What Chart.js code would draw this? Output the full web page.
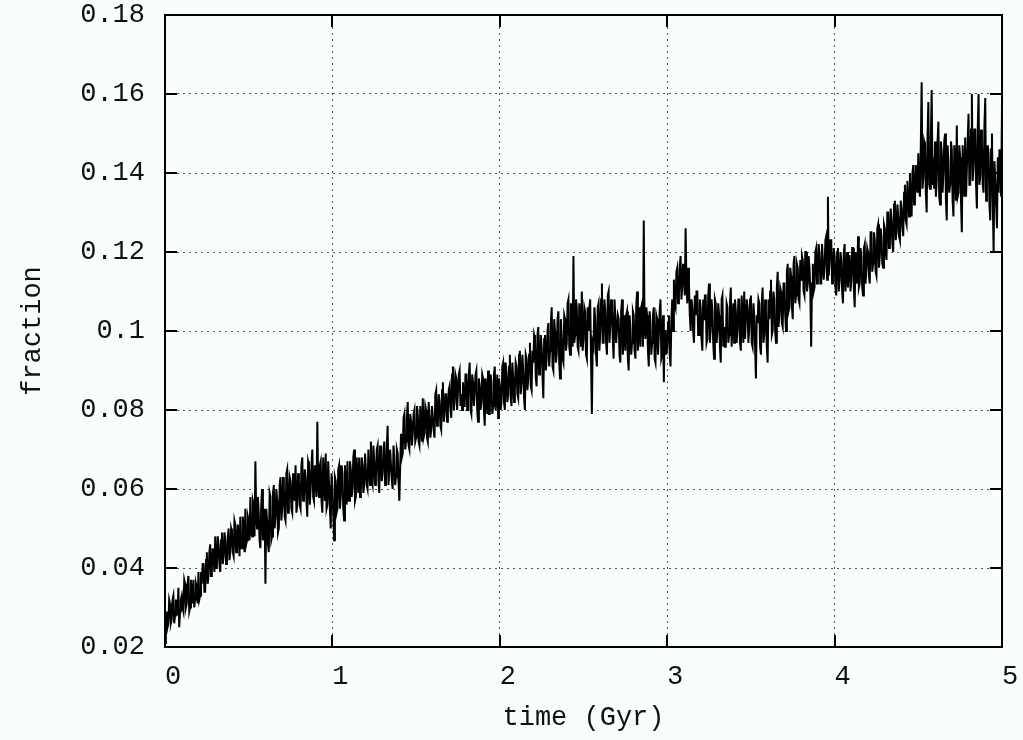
<!DOCTYPE html>
<html>
<head>
<meta charset="utf-8">
<script src="https://cdn.jsdelivr.net/npm/chart.js@4.4.0/dist/chart.umd.min.js"></script>
<style>
  html, body { margin: 0; padding: 0; background: #f8fefe; }
  #wrap { width: 1023px; height: 740px; }
</style>
</head>
<body>
<div id="wrap"><canvas id="fracChart" width="1023" height="740"></canvas></div>
<script>
// output every 0.005 Gyr: fracGyrN holds the samples on the 0.01 grid,
// halfGyrN the samples taken half a step later
const timeStep = 0.01;

const fracGyr0 = [
  0.021, 0.029, 0.026, 0.031, 0.027, 0.033, 0.028, 0.030, 0.035, 0.029,
  0.033, 0.029, 0.036, 0.031, 0.038, 0.030, 0.034, 0.037, 0.032, 0.035,
  0.039, 0.033, 0.036, 0.041, 0.034, 0.044, 0.038, 0.046, 0.040, 0.043,
  0.048, 0.041, 0.046, 0.039, 0.049, 0.043, 0.047, 0.042, 0.050, 0.044,
  0.049, 0.043, 0.051, 0.046, 0.048, 0.053, 0.045, 0.050, 0.055, 0.047,
  0.052, 0.058, 0.048, 0.056, 0.067, 0.050, 0.054, 0.045, 0.060, 0.049,
  0.036, 0.052, 0.044, 0.058, 0.048, 0.061, 0.053, 0.057, 0.050, 0.063,
  0.055, 0.060, 0.052, 0.065, 0.057, 0.062, 0.054, 0.059, 0.066, 0.056,
  0.062, 0.055, 0.068, 0.058, 0.063, 0.053, 0.066, 0.060, 0.070, 0.057,
  0.064, 0.077, 0.058, 0.067, 0.054, 0.063, 0.069, 0.056, 0.061, 0.050
];
const halfGyr0 = [
  0.026, 0.025, 0.032, 0.026, 0.032, 0.026, 0.032, 0.028, 0.025, 0.032,
  0.030, 0.037, 0.030, 0.036, 0.029, 0.037, 0.031, 0.030, 0.036, 0.031,
  0.032, 0.039, 0.041, 0.034, 0.042, 0.036, 0.044, 0.038, 0.045, 0.039,
  0.040, 0.048, 0.041, 0.047, 0.041, 0.049, 0.041, 0.048, 0.042, 0.050,
  0.044, 0.052, 0.044, 0.051, 0.043, 0.045, 0.053, 0.044, 0.046, 0.053,
  0.047, 0.049, 0.057, 0.048, 0.053, 0.058, 0.047, 0.056, 0.047, 0.055,
  0.055, 0.046, 0.059, 0.047, 0.059, 0.050, 0.060, 0.049, 0.061, 0.052,
  0.063, 0.053, 0.064, 0.054, 0.063, 0.055, 0.064, 0.057, 0.054, 0.064,
  0.056, 0.066, 0.057, 0.065, 0.057, 0.067, 0.056, 0.066, 0.058, 0.066,
  0.058, 0.061, 0.066, 0.057, 0.068, 0.057, 0.055, 0.067, 0.055, 0.064
];
const fracGyr1 = [
  0.060, 0.047, 0.062, 0.055, 0.066, 0.058, 0.064, 0.052, 0.061, 0.067,
  0.057, 0.065, 0.060, 0.070, 0.058, 0.063, 0.068, 0.059, 0.066, 0.061,
  0.069, 0.060, 0.066, 0.072, 0.061, 0.067, 0.063, 0.071, 0.059, 0.068,
  0.064, 0.072, 0.062, 0.076, 0.065, 0.070, 0.060, 0.068, 0.063, 0.069,
  0.057, 0.074, 0.069, 0.079, 0.072, 0.082, 0.070, 0.077, 0.074, 0.080,
  0.073, 0.079, 0.071, 0.076, 0.083, 0.074, 0.080, 0.072, 0.078, 0.075,
  0.081, 0.073, 0.085, 0.077, 0.082, 0.075, 0.087, 0.079, 0.084, 0.080,
  0.086, 0.078, 0.091, 0.082, 0.088, 0.080, 0.090, 0.084, 0.087, 0.081,
  0.089, 0.083, 0.092, 0.079, 0.087, 0.084, 0.090, 0.077, 0.086, 0.082,
  0.088, 0.076, 0.084, 0.090, 0.079, 0.087, 0.081, 0.091, 0.083, 0.078
];
const halfGyr1 = [
  0.054, 0.063, 0.054, 0.065, 0.055, 0.066, 0.055, 0.066, 0.056, 0.057,
  0.067, 0.058, 0.068, 0.057, 0.068, 0.059, 0.058, 0.068, 0.059, 0.069,
  0.061, 0.070, 0.061, 0.062, 0.071, 0.061, 0.070, 0.062, 0.071, 0.062,
  0.070, 0.061, 0.071, 0.061, 0.070, 0.062, 0.071, 0.061, 0.070, 0.062,
  0.066, 0.068, 0.078, 0.070, 0.078, 0.071, 0.079, 0.071, 0.079, 0.072,
  0.081, 0.072, 0.081, 0.072, 0.073, 0.081, 0.073, 0.082, 0.073, 0.081,
  0.075, 0.084, 0.076, 0.084, 0.076, 0.085, 0.077, 0.084, 0.077, 0.085,
  0.080, 0.089, 0.080, 0.089, 0.080, 0.089, 0.081, 0.080, 0.081, 0.089,
  0.080, 0.089, 0.080, 0.089, 0.081, 0.089, 0.080, 0.088, 0.080, 0.089,
  0.080, 0.088, 0.079, 0.079, 0.089, 0.079, 0.089, 0.080, 0.089, 0.088
];
const fracGyr2 = [
  0.086, 0.082, 0.092, 0.080, 0.089, 0.084, 0.094, 0.081, 0.088, 0.085,
  0.091, 0.083, 0.095, 0.087, 0.090, 0.080, 0.093, 0.088, 0.097, 0.085,
  0.092, 0.098, 0.086, 0.101, 0.090, 0.096, 0.083, 0.099, 0.093, 0.102,
  0.095, 0.106, 0.090, 0.100, 0.094, 0.105, 0.088, 0.098, 0.092, 0.103,
  0.097, 0.108, 0.094, 0.102, 0.119, 0.099, 0.106, 0.095, 0.103, 0.110,
  0.098, 0.105, 0.093, 0.100, 0.108, 0.079, 0.096, 0.103, 0.091, 0.107,
  0.099, 0.112, 0.097, 0.105, 0.094, 0.110, 0.101, 0.106, 0.093, 0.104,
  0.097, 0.103, 0.092, 0.108, 0.099, 0.095, 0.105, 0.090, 0.101, 0.097,
  0.104, 0.093, 0.110, 0.100, 0.096, 0.107, 0.128, 0.098, 0.104, 0.091,
  0.102, 0.097, 0.106, 0.092, 0.103, 0.099, 0.108, 0.094, 0.087, 0.100
];
const halfGyr2 = [
  0.080, 0.091, 0.082, 0.092, 0.082, 0.091, 0.083, 0.092, 0.082, 0.092,
  0.084, 0.094, 0.084, 0.094, 0.083, 0.094, 0.085, 0.094, 0.086, 0.095,
  0.099, 0.088, 0.099, 0.089, 0.099, 0.089, 0.098, 0.090, 0.100, 0.091,
  0.102, 0.091, 0.103, 0.092, 0.103, 0.092, 0.103, 0.093, 0.104, 0.095,
  0.107, 0.096, 0.107, 0.096, 0.097, 0.108, 0.096, 0.107, 0.096, 0.095,
  0.106, 0.094, 0.106, 0.106, 0.093, 0.097, 0.106, 0.094, 0.106, 0.095,
  0.108, 0.097, 0.108, 0.097, 0.109, 0.097, 0.108, 0.098, 0.108, 0.097,
  0.104, 0.094, 0.105, 0.094, 0.104, 0.104, 0.093, 0.104, 0.094, 0.105,
  0.095, 0.106, 0.095, 0.106, 0.106, 0.096, 0.100, 0.106, 0.095, 0.105,
  0.094, 0.104, 0.093, 0.104, 0.094, 0.105, 0.093, 0.104, 0.100, 0.094
];
const fracGyr3 = [
  0.096, 0.104, 0.091, 0.108, 0.113, 0.106, 0.116, 0.109, 0.119, 0.111,
  0.115, 0.126, 0.107, 0.112, 0.100, 0.106, 0.097, 0.104, 0.110, 0.099,
  0.106, 0.095, 0.103, 0.109, 0.098, 0.112, 0.101, 0.105, 0.093, 0.107,
  0.100, 0.104, 0.092, 0.109, 0.101, 0.096, 0.106, 0.099, 0.111, 0.102,
  0.097, 0.105, 0.100, 0.108, 0.095, 0.103, 0.110, 0.098, 0.106, 0.101,
  0.109, 0.096, 0.104, 0.088, 0.102, 0.107, 0.094, 0.111, 0.099, 0.105,
  0.092, 0.103, 0.113, 0.100, 0.108, 0.097, 0.115, 0.104, 0.110, 0.101,
  0.112, 0.100, 0.117, 0.106, 0.114, 0.103, 0.119, 0.109, 0.116, 0.107,
  0.113, 0.118, 0.109, 0.120, 0.112, 0.116, 0.096, 0.117, 0.111, 0.121,
  0.114, 0.119, 0.112, 0.122, 0.116, 0.124, 0.134, 0.118, 0.123, 0.113
];
const halfGyr3 = [
  0.102, 0.094, 0.103, 0.100, 0.107, 0.115, 0.107, 0.116, 0.108, 0.117,
  0.109, 0.112, 0.116, 0.104, 0.108, 0.100, 0.109, 0.110, 0.099, 0.108,
  0.098, 0.108, 0.109, 0.097, 0.109, 0.097, 0.108, 0.097, 0.108, 0.097,
  0.107, 0.096, 0.108, 0.096, 0.096, 0.107, 0.097, 0.107, 0.096, 0.107,
  0.108, 0.097, 0.108, 0.097, 0.109, 0.097, 0.098, 0.108, 0.097, 0.108,
  0.097, 0.107, 0.096, 0.104, 0.108, 0.096, 0.107, 0.097, 0.108, 0.096,
  0.108, 0.110, 0.099, 0.110, 0.100, 0.111, 0.101, 0.111, 0.102, 0.112,
  0.104, 0.115, 0.105, 0.116, 0.106, 0.117, 0.107, 0.117, 0.108, 0.118,
  0.119, 0.110, 0.120, 0.110, 0.119, 0.110, 0.112, 0.110, 0.120, 0.112,
  0.122, 0.112, 0.122, 0.113, 0.123, 0.113, 0.114, 0.123, 0.112, 0.121
];
const fracGyr4 = [
  0.119, 0.109, 0.121, 0.113, 0.118, 0.107, 0.122, 0.115, 0.111, 0.119,
  0.113, 0.121, 0.106, 0.117, 0.124, 0.112, 0.119, 0.109, 0.122, 0.116,
  0.120, 0.112, 0.125, 0.117, 0.123, 0.114, 0.127, 0.119, 0.124, 0.116,
  0.126, 0.118, 0.130, 0.122, 0.128, 0.120, 0.133, 0.125, 0.129, 0.123,
  0.131, 0.124, 0.137, 0.127, 0.134, 0.140, 0.129, 0.142, 0.133, 0.138,
  0.145, 0.134, 0.163, 0.139, 0.147, 0.130, 0.158, 0.136, 0.161, 0.144,
  0.148, 0.138, 0.153, 0.132, 0.145, 0.140, 0.150, 0.128, 0.143, 0.137,
  0.146, 0.129, 0.141, 0.152, 0.135, 0.144, 0.125, 0.140, 0.149, 0.134,
  0.155, 0.137, 0.160, 0.142, 0.151, 0.131, 0.160, 0.139, 0.148, 0.135,
  0.159, 0.140, 0.145, 0.128, 0.150, 0.120, 0.138, 0.126, 0.135, 0.143,
  0.157
];
const halfGyr4 = [
  0.111, 0.120, 0.110, 0.120, 0.110, 0.120, 0.110, 0.120, 0.119, 0.110,
  0.121, 0.111, 0.120, 0.112, 0.111, 0.121, 0.111, 0.121, 0.112, 0.121,
  0.114, 0.125, 0.115, 0.125, 0.115, 0.126, 0.116, 0.126, 0.117, 0.127,
  0.120, 0.130, 0.121, 0.131, 0.122, 0.132, 0.123, 0.132, 0.124, 0.133,
  0.126, 0.135, 0.128, 0.138, 0.129, 0.131, 0.140, 0.132, 0.142, 0.135,
  0.136, 0.147, 0.136, 0.148, 0.135, 0.149, 0.137, 0.149, 0.137, 0.136,
  0.134, 0.148, 0.134, 0.148, 0.135, 0.148, 0.133, 0.147, 0.135, 0.148,
  0.133, 0.147, 0.133, 0.134, 0.147, 0.133, 0.147, 0.134, 0.134, 0.148,
  0.137, 0.151, 0.138, 0.151, 0.137, 0.151, 0.137, 0.151, 0.137, 0.152,
  0.133, 0.147, 0.132, 0.146, 0.132, 0.143, 0.132, 0.144, 0.146, 0.134
];

const xTicks = [0, 1, 2, 3, 4, 5];
const xTickLabels = ['0', '1', '2', '3', '4', '5'];
const yTicks = [0.02, 0.04, 0.06, 0.08, 0.10, 0.12, 0.14, 0.16, 0.18];
const yTickLabels = ['0.02', '0.04', '0.06', '0.08', '0.1', '0.12', '0.14', '0.16', '0.18'];

const onGrid = [].concat(fracGyr0, fracGyr1, fracGyr2, fracGyr3, fracGyr4);
const halfStep = [].concat(halfGyr0, halfGyr1, halfGyr2, halfGyr3, halfGyr4);

// interleave the two sample sets into one time series
const points = [];
onGrid.forEach((f, i) => {
  points.push({ x: i * timeStep, y: f });
  if (i < halfStep.length) points.push({ x: (i + 0.5) * timeStep, y: halfStep[i] });
});

const monoFont = { family: "'Liberation Mono', 'Courier New', monospace", size: 27 };

// page background + gnuplot-like frame with inward ticks on all four sides
const framePlugin = {
  id: 'frame',
  beforeDraw(chart) {
    const c = chart.ctx;
    c.save();
    c.fillStyle = '#f8fefe';
    c.fillRect(0, 0, chart.width, chart.height);
    c.restore();
  },
  afterDatasetsDraw(chart) {
    const c = chart.ctx;
    const a = chart.chartArea;
    const xs = chart.scales.x, ys = chart.scales.y;
    const len = 12;
    c.save();
    c.strokeStyle = '#000';
    c.lineWidth = 2;
    c.beginPath();
    xs.ticks.forEach(t => {
      const px = Math.round(xs.getPixelForValue(t.value));
      c.moveTo(px, a.bottom); c.lineTo(px, a.bottom - len);
      c.moveTo(px, a.top); c.lineTo(px, a.top + len);
    });
    ys.ticks.forEach(t => {
      const py = Math.round(ys.getPixelForValue(t.value));
      c.moveTo(a.left, py); c.lineTo(a.left + len, py);
      c.moveTo(a.right, py); c.lineTo(a.right - len, py);
    });
    c.stroke();
    c.strokeRect(a.left, a.top, a.right - a.left, a.bottom - a.top);
    c.restore();
  }
};

new Chart(document.getElementById('fracChart'), {
  type: 'scatter',
  data: {
    datasets: [{
      data: points,
      showLine: true,
      borderColor: '#000',
      borderWidth: 2,
      pointRadius: 0,
      tension: 0
    }]
  },
  options: {
    responsive: false,
    animation: false,
    layout: { padding: { top: 15, right: 21, left: 0, bottom: 0 } },
    plugins: { legend: { display: false }, tooltip: { enabled: false } },
    scales: {
      x: {
        type: 'linear',
        min: 0, max: 5,
        afterBuildTicks: s => { s.ticks = xTicks.map(v => ({ value: v })); },
        afterFit: s => { s.height = 93; s.paddingLeft = 0; s.paddingRight = 0; },
        grid: { color: '#555', lineWidth: 1, drawTicks: false },
        border: { display: false, dash: [2, 4] },
        ticks: {
          color: '#111', font: monoFont, padding: 14, labelOffset: 8,
          maxRotation: 0,
          callback: (v, i) => xTickLabels[i]
        },
        title: { display: true, text: 'time (Gyr)', color: '#111', font: monoFont, padding: { top: 0, bottom: 6 } }
      },
      y: {
        type: 'linear',
        min: 0.02, max: 0.18,
        afterBuildTicks: s => { s.ticks = yTicks.map(v => ({ value: v })); },
        afterFit: s => { s.width = 165; s.paddingTop = 0; s.paddingBottom = 0; },
        grid: { color: '#555', lineWidth: 1, drawTicks: false },
        border: { display: false, dash: [2, 4] },
        ticks: {
          color: '#111', font: monoFont, padding: 20,
          callback: (v, i) => yTickLabels[i]
        },
        title: { display: true, text: 'fraction', color: '#111', font: monoFont, padding: { top: 17, bottom: 0 } }
      }
    }
  },
  plugins: [framePlugin]
});
</script>
</body>
</html>
